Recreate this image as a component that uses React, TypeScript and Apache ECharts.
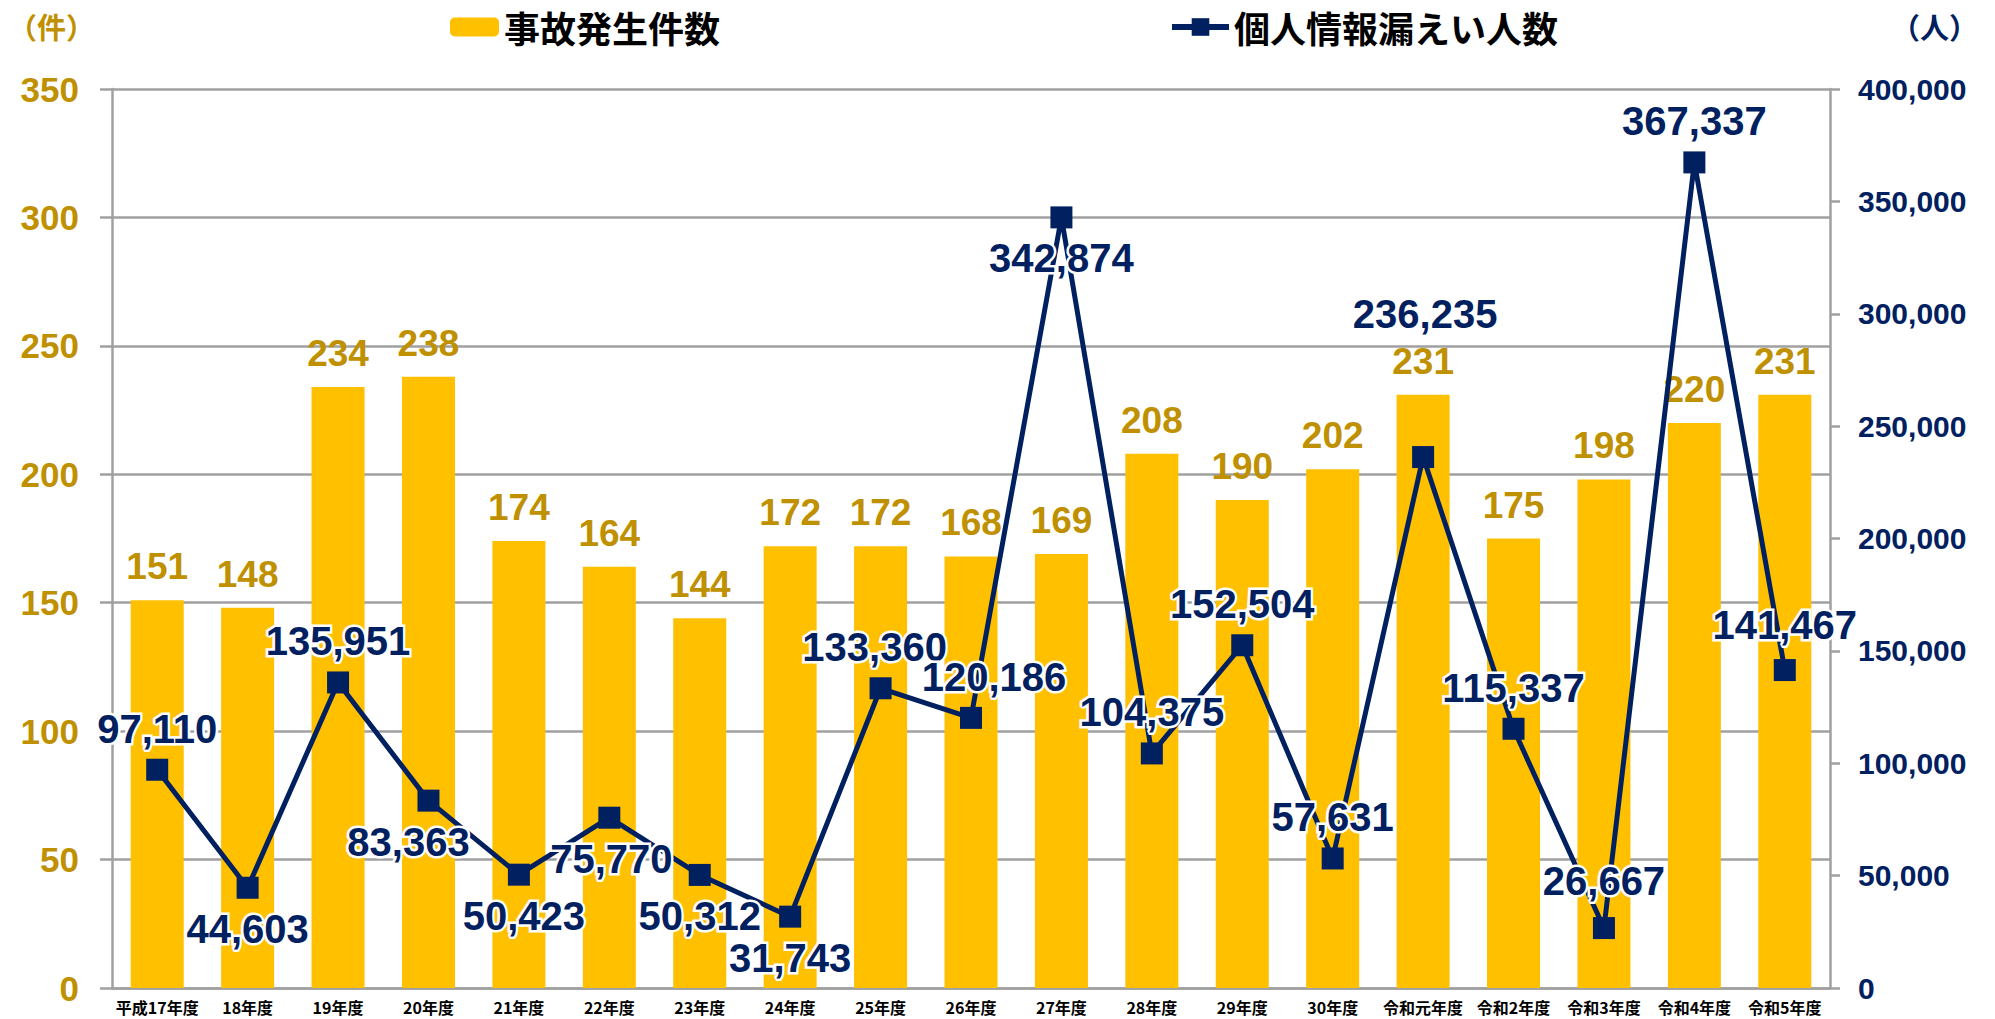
import React, { useEffect, useRef } from "react";
import * as echarts from "echarts";

const categories = [
  "平成17年度", "18年度", "19年度", "20年度", "21年度", "22年度", "23年度", "24年度", "25年度", "26年度",
  "27年度", "28年度", "29年度", "30年度", "令和元年度", "令和2年度", "令和3年度", "令和4年度", "令和5年度",
];
const incidents = [151, 148, 234, 238, 174, 164, 144, 172, 172, 168, 169, 208, 190, 202, 231, 175, 198, 220, 231];
const leaked = [
  97110, 44603, 135951, 83363, 50423, 75770, 50312, 31743, 133360, 120186,
  342874, 104375, 152504, 57631, 236235, 115337, 26667, 367337, 141467,
];
const leakLabelPos = [
  "top", "bottom", "top", "bottom", "bottom", "bottom", "bottom", "bottom", "top", "top",
  "bottom", "top", "top", "top", "top", "top", "top", "top", "top",
];
const leakLabelOffset: [number, number][] = [
  [0, 0], [0, 0], [0, 0], [-20, 0], [5, 0], [2, 0], [0, 0], [0, 0], [-6, 0], [23, 0],
  [0, 0], [0, 0], [0, 0], [0, 0], [2, -102], [0, 0], [0, -6], [0, 0], [0, -4],
];
const leftTicks = { min: 0, max: 350, interval: 50 };
const rightTicks = { min: 0, max: 400000, interval: 50000 };

const GOLD = "#FFC000";
const GOLD_TEXT = "#BF9000";
const NAVY = "#002060";
const GRID = "#A0A0A0";
const NUM_FONT = "'Liberation Sans', Arial, sans-serif";
const JP_FONT = "'Noto Sans CJK JP', sans-serif";

export default function App() {
  const ref = useRef<HTMLDivElement>(null);
  useEffect(() => {
    if (!ref.current) return;
    const chart = echarts.init(ref.current, undefined, { renderer: "svg" });
    const fmt = (v: number) => v.toLocaleString("en-US");
    chart.setOption({
      animation: false,
      backgroundColor: "#fff",
      grid: { left: 112, right: 165, top: 89, bottom: 31, containLabel: false },
      legend: [
        {
          data: ["事故発生件数"],
          left: 445,
          top: 4,
          itemWidth: 49,
          itemHeight: 19,
          itemGap: 8,
          textStyle: { fontSize: 36, fontWeight: "bold", color: "#000", fontFamily: JP_FONT },
        },
        {
          data: ["個人情報漏えい人数"],
          left: 1164,
          top: 4,
          itemWidth: 57,
          itemHeight: 22,
          lineStyle: { width: 6 },
          textStyle: { fontSize: 36, fontWeight: "bold", color: "#000", fontFamily: JP_FONT },
        },
      ],
      graphic: [
        {
          type: "text",
          left: 8,
          top: 11,
          style: { text: "（件）", fontSize: 29, fontWeight: "bold", fill: GOLD_TEXT, fontFamily: JP_FONT },
        },
        {
          type: "text",
          left: 1891,
          top: 11,
          style: { text: "（人）", fontSize: 29, fontWeight: "bold", fill: NAVY, fontFamily: JP_FONT },
        },
      ],
      xAxis: {
        type: "category",
        data: categories,
        axisTick: { show: false },
        axisLine: { lineStyle: { color: GRID, width: 2.5 } },
        axisLabel: {
          interval: 0,
          margin: 10,
          fontSize: 16,
          lineHeight: 18,
          fontWeight: "bold",
          color: "#000",
          fontFamily: JP_FONT,
        },
      },
      yAxis: [
        {
          type: "value",
          ...leftTicks,
          position: "left",
          axisLine: { show: true, lineStyle: { color: GRID, width: 2.5 } },
          axisTick: { show: true, length: 12, lineStyle: { color: GRID, width: 2.5 } },
          splitLine: { show: true, lineStyle: { color: GRID, width: 2.5 } },
          axisLabel: {
            margin: 33,
            fontSize: 35,
            fontWeight: "bold",
            color: GOLD_TEXT,
            fontFamily: NUM_FONT,
          },
        },
        {
          type: "value",
          ...rightTicks,
          position: "right",
          axisLine: { show: true, lineStyle: { color: GRID, width: 2.5 } },
          axisTick: { show: true, length: 10, lineStyle: { color: GRID, width: 2.5 } },
          splitLine: { show: false },
          axisLabel: {
            margin: 28,
            fontSize: 30,
            fontWeight: "bold",
            color: NAVY,
            fontFamily: NUM_FONT,
            formatter: fmt,
          },
        },
      ],
      series: [
        {
          name: "事故発生件数",
          type: "bar",
          yAxisIndex: 0,
          data: incidents,
          barWidth: 53,
          itemStyle: { color: GOLD },
          z: 2,
          label: {
            show: true,
            position: "top",
            distance: 15,
            fontSize: 37,
            fontWeight: "bold",
            color: GOLD_TEXT,
            fontFamily: NUM_FONT,
          },
        },
        {
          name: "個人情報漏えい人数",
          type: "line",
          yAxisIndex: 1,
          symbol: "rect",
          symbolSize: 22,
          z: 5,
          lineStyle: { color: NAVY, width: 5 },
          itemStyle: { color: NAVY },
          data: leaked.map((v, i) => ({
            value: v,
            label: {
              position: leakLabelPos[i],
              offset: leakLabelOffset[i],
            },
          })),
          label: {
            show: true,
            distance: 10,
            fontSize: 40,
            fontWeight: "bold",
            color: NAVY,
            fontFamily: NUM_FONT,
            textBorderColor: "#fff",
            textBorderWidth: 5,
            formatter: (p: any) => fmt(p.value),
          },
        },
      ],
    });
    return () => chart.dispose();
  }, []);
  return (
    <div
      ref={ref}
      style={{ position: "fixed", left: 0, top: 0, width: 1995, height: 1019, background: "#fff" }}
    />
  );
}
